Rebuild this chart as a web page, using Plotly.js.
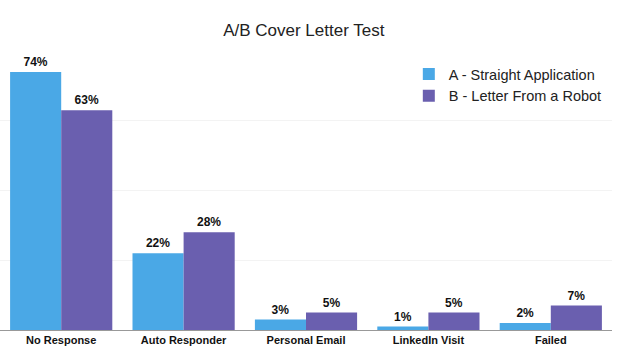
<!DOCTYPE html>
<html><head><meta charset="utf-8">
<script src="https://cdn.plot.ly/plotly-3.0.1.min.js"></script>
<style>body{margin:0;padding:0;background:#fff}#chart{width:620px;height:357px}</style>
</head><body><div id="chart"></div>
<script>
const categories = ["No Response","Auto Responder","Personal Email","LinkedIn Visit","Failed"];
const seriesA = [74,22,3,1,2];
const seriesB = [63,28,5,5,7];
const nameA = "A - Straight Application";
const nameB = "B - Letter From a Robot";

const labelFont = {family:"Liberation Sans, Arial, sans-serif", size:12, color:"#111"};
function trace(vals, name, color){
  return {type:"bar", x:categories, y:vals, name:name,
    marker:{color:color},
    text:vals.map(v=>"<b>"+v+"%</b>"), textposition:"outside",
    textfont:labelFont, cliponaxis:false, hoverinfo:"none"};
}
const data = [trace(seriesA,nameA,"#4AA8E6"), trace(seriesB,nameB,"#6A5FAF")];
const layout = {
  width:620, height:357,
  margin:{l:0,r:8,t:51,b:27},
  paper_bgcolor:"#fff", plot_bgcolor:"#fff",
  title:{text:"A/B Cover Letter Test", x:0.49, xanchor:"center", y:0.915, yanchor:"middle",
    font:{family:"Liberation Sans, Arial, sans-serif", size:17, color:"#222"}},
  barmode:"group", bargap:0.165, bargroupgap:0,
  xaxis:{showline:true, linecolor:"#999", linewidth:1, ticks:"", showgrid:false,
    tickfont:{family:"Liberation Sans, Arial, sans-serif", size:11, color:"#111", weight:"bold"}},
  yaxis:{range:[0,80], dtick:20, showticklabels:false, gridcolor:"#f3f3f3", zeroline:false, showline:false},
  showlegend:true,
  legend:{x:0.668, y:0.975, xanchor:"left", yanchor:"top", bgcolor:"rgba(0,0,0,0)",
    font:{family:"Liberation Sans, Arial, sans-serif", size:14.5, color:"#222"}, tracegroupgap:0, itemwidth:30}
};
Plotly.newPlot("chart", data, layout, {displayModeBar:false, staticPlot:true});
</script></body></html>
